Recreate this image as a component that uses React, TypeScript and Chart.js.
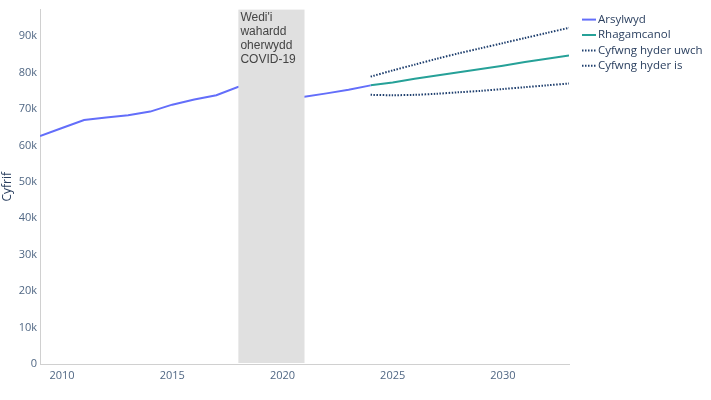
import React, { useEffect, useRef } from 'react';
import { Chart, registerables } from 'chart.js';

Chart.register(...registerables);

// Observed (Arsylwyd) – 2019 and 2020 excluded (COVID-19)
const observedYears = [2009, 2010, 2011, 2012, 2013, 2014, 2015, 2016, 2017, 2018, 2019, 2020, 2021, 2022, 2023, 2024];
const observedValues = [62600, 64800, 67000, 67700, 68300, 69300, 71200, 72600, 73800, 76100, null, null, 73400, 74300, 75300, 76500];

// Projection (Rhagamcanol) and confidence interval
const forecastYears = [2024, 2025, 2026, 2027, 2028, 2029, 2030, 2031, 2032, 2033];
const forecastValues = [76500, 77300, 78300, 79200, 80100, 81000, 81900, 82900, 83800, 84700];
const upperValues = [78900, 80600, 82200, 83800, 85300, 86700, 88100, 89500, 90900, 92300];
const lowerValues = [73900, 73800, 73900, 74200, 74600, 75000, 75500, 76000, 76500, 77000];

const yTickValues = [0, 10000, 20000, 30000, 40000, 50000, 60000, 70000, 80000, 90000];
const xTickValues = [2010, 2015, 2020, 2025, 2030];

const covidStart = 2018;
const covidEnd = 2021;
const covidLabel = ["Wedi'i", 'wahardd', 'oherwydd', 'COVID-19'];

const seriesLabels = ['Arsylwyd', 'Rhagamcanol', 'Cyfwng hyder uwch', 'Cyfwng hyder is'];

const toPoints = (xs: number[], ys: (number | null)[]) => xs.map((x, i) => ({ x, y: ys[i] }));

const covidPlugin = {
  id: 'covidBand',
  afterDatasetsDraw(chart: any) {
    const { ctx, chartArea, scales } = chart;
    const x1 = scales.x.getPixelForValue(covidStart);
    const x2 = scales.x.getPixelForValue(covidEnd);
    ctx.save();
    ctx.fillStyle = '#e0e0e0';
    ctx.fillRect(x1, chartArea.top, x2 - x1, chartArea.bottom - chartArea.top - 1);
    ctx.fillStyle = '#444444';
    ctx.font = '12px "Liberation Sans", Arial, sans-serif';
    ctx.textBaseline = 'middle';
    ctx.textAlign = 'left';
    covidLabel.forEach((line, i) => {
      ctx.fillText(line, x1 + 2, chartArea.top + 8 + i * 14);
    });
    ctx.restore();
  },
};

const legendPlugin = {
  id: 'sideLegend',
  afterDraw(chart: any) {
    const { ctx, chartArea } = chart;
    const x0 = chartArea.right + 13;
    ctx.save();
    chart.data.datasets.forEach((ds: any, i: number) => {
      const y = chartArea.top + 10 + i * 15.4;
      ctx.beginPath();
      ctx.strokeStyle = ds.borderColor;
      ctx.lineWidth = ds.borderWidth;
      ctx.setLineDash(ds.borderDash || []);
      ctx.moveTo(x0, y);
      ctx.lineTo(x0 + 14, y);
      ctx.stroke();
      ctx.setLineDash([]);
      ctx.fillStyle = '#2a3f5f';
      ctx.font = '11.5px "Open Sans", sans-serif';
      ctx.textBaseline = 'middle';
      ctx.textAlign = 'left';
      ctx.fillText(ds.label, x0 + 16, y);
    });
    ctx.restore();
  },
};

export default function App() {
  const canvasRef = useRef<HTMLCanvasElement | null>(null);

  useEffect(() => {
    if (!canvasRef.current) return;
    const chart = new Chart(canvasRef.current, {
      type: 'line',
      data: {
        datasets: [
          {
            label: seriesLabels[0],
            data: toPoints(observedYears, observedValues),
            borderColor: '#636efa',
            borderWidth: 2,
            pointRadius: 0,
            spanGaps: true,
            tension: 0,
          },
          {
            label: seriesLabels[1],
            data: toPoints(forecastYears, forecastValues),
            borderColor: '#26a198',
            borderWidth: 2,
            pointRadius: 0,
            tension: 0,
          },
          {
            label: seriesLabels[2],
            data: toPoints(forecastYears, upperValues),
            borderColor: '#1f3f6e',
            borderWidth: 2,
            borderDash: [1.5, 1.5],
            pointRadius: 0,
            tension: 0.3,
          },
          {
            label: seriesLabels[3],
            data: toPoints(forecastYears, lowerValues),
            borderColor: '#1f3f6e',
            borderWidth: 2,
            borderDash: [1.5, 1.5],
            pointRadius: 0,
            tension: 0.3,
          },
        ] as any,
      },
      options: {
        animation: false,
        responsive: true,
        maintainAspectRatio: false,
        layout: { padding: { top: 8, right: 142, left: 0, bottom: 0 } },
        plugins: {
          legend: { display: false },
          tooltip: { enabled: false },
        },
        scales: {
          x: {
            type: 'linear',
            min: 2009,
            max: 2033,
            grid: { display: false, drawTicks: false },
            border: { display: true, color: '#d0d0d0', width: 1 },
            afterBuildTicks: (scale: any) => {
              scale.ticks = xTickValues.map((v) => ({ value: v }));
            },
            afterFit: (scale: any) => {
              scale.height = 36;
            },
            ticks: {
              color: '#506784',
              font: { family: 'Open Sans', size: 11 },
              padding: 5,
              maxRotation: 0,
              callback: (v: any) => String(v),
            },
          },
          y: {
            type: 'linear',
            min: 0,
            max: 97300,
            grid: { display: false, drawTicks: false },
            border: { display: true, color: '#d0d0d0', width: 1 },
            afterBuildTicks: (scale: any) => {
              scale.ticks = yTickValues.map((v) => ({ value: v }));
            },
            afterFit: (scale: any) => {
              scale.width = 40;
            },
            title: {
              display: true,
              text: 'Cyfrif',
              color: '#2a3f5f',
              font: { family: 'Open Sans', size: 12 },
              padding: 0,
            },
            ticks: {
              color: '#506784',
              font: { family: 'Open Sans', size: 11 },
              padding: 3,
              callback: (v: any) => (v === 0 ? '0' : `${v / 1000}k`),
            },
          },
        },
      } as any,
      plugins: [covidPlugin, legendPlugin],
    });
    return () => chart.destroy();
  }, []);

  return (
    <div style={{ position: 'fixed', left: 0, top: 0, width: 711, height: 400, background: '#ffffff' }}>
      <canvas ref={canvasRef} />
    </div>
  );
}
